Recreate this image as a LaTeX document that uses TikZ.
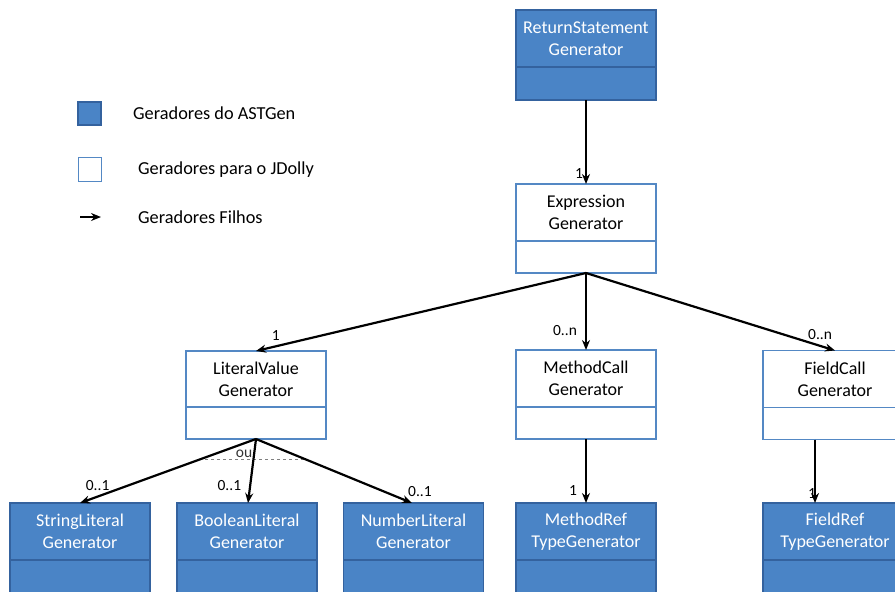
\documentclass[tikz,border=0pt]{standalone}
\usepackage{fontspec}
\setmainfont{Carlito}
\usetikzlibrary{positioning}
\usetikzlibrary{arrows.meta}
\definecolor{astblue}{RGB}{74,132,198}
\definecolor{astedge}{RGB}{52,98,158}
\definecolor{jdedge}{RGB}{84,136,196}
\tikzset{
gen/.style={minimum width=140pt, minimum height=57pt, inner sep=0pt, outer sep=0pt, align=center, line width=1.5pt, font=\fontsize{18}{22}\selectfont},
astgen/.style={gen, draw=astedge, fill=astblue, text=white},
jdgen/.style={gen, draw=jdedge, fill=white, text=black},
astslot/.style={astgen, minimum height=33pt},
jdslot/.style={jdgen, minimum height=32pt},
spawn/.style={-{Stealth[length=10pt,width=8pt]}, line width=2.2pt},
mult/.style={font=\fontsize{15.5}{15.5}\selectfont, inner sep=2pt},
legend/.style={font=\fontsize{18.3}{22}\selectfont, anchor=west, inner sep=0pt}
}

\begin{document}
\begin{tikzpicture}[x=1pt, y=-1pt]

\fill [white] (0,0) rectangle (895,592);
\useasboundingbox (0,0) rectangle (895,592);

% legend
\node [astgen, minimum width=23pt, minimum height=23pt] (keyast) at (89.5,113.5) {};
\node [legend] (keyasttext) at (133,113) {Geradores do ASTGen};
\node [jdgen, minimum width=23pt, minimum height=24pt] (keyjd) at (90,169.5) {};
\node [legend] (keyjdtext) at (138,170) {Geradores para o JDolly};
\coordinate (keyfrom) at (80,217);
\coordinate (keyto) at (101,217);
\node [legend] (keysubtext) at (138,217) {Geradores Filhos};
\draw [spawn, line width=1.8pt] (keyfrom) -- (keyto);

% generators
\node [astgen] (ret) at (586,38.5) {ReturnStatement\\Generator};
\node [astslot, below=0pt of ret] (retb) {};

\node [jdgen] (expr) at (586,212.5) {Expression\\Generator};
\node [jdslot, below=0pt of expr] (exprb) {};

\node [jdgen, minimum height=56pt] (lit) at (256,379) {LiteralValue\\Generator};
\node [jdslot, below=0pt of lit] (litb) {};
\node [jdgen, minimum height=57pt] (mcall) at (586,378.5) {MethodCall\\Generator};
\node [jdslot, below=0pt of mcall] (mcallb) {};
\node [jdgen, minimum width=144pt] (fcall) at (835,379) {FieldCall\\Generator};
\node [jdslot, minimum width=144pt, below=0pt of fcall] (fcallb) {};

\foreach \name/\x/\txt in {str/80/StringLiteral, bool/247/BooleanLiteral, num/413.5/NumberLiteral} {
  \node [astgen] (\name) at (\x,531.5) {\txt\\Generator};
  \node [astslot, minimum height=40pt, below=0pt of \name] (\name b) {};
}
\node [astgen] (mref) at (586,531.5) {MethodRef\\TypeGenerator};
\node [astslot, minimum height=40pt, below=0pt of mref] (mrefb) {};
\node [astgen, minimum width=144pt] (fref) at (835,531.5) {FieldRef\\TypeGenerator};
\node [astslot, minimum width=144pt, minimum height=40pt, below=0pt of fref] (frefb) {};

% choice between the literal generators
\draw [gray, dashed, line width=1pt] ([xshift=-51pt, yshift=-20pt]litb.south) -- ([xshift=51pt, yshift=-20pt]litb.south);
\node [mult, anchor=base, text=black!80] (ou) at ([xshift=-12pt, yshift=-18pt]litb.south) {ou};

% child generators
\draw [spawn] (retb.south) -- node [mult, pos=0.88, left] {1} (expr.north);
\draw [spawn] (exprb.south) -- node [mult, pos=0.94, above=3pt] {1} (lit.north);
\draw [spawn] (exprb.south) -- node [mult, pos=0.75, left=6pt] {0..n} (mcall.north);
\draw [spawn] (exprb.south) -- node [mult, pos=0.94, above=3pt] {0..n} (fcall.north);
\draw [spawn] (litb.south) -- node [mult, pos=0.9, above=3pt] {0..1} (str.north);
\draw [spawn] (litb.south) -- node [mult, pos=0.72, left=6pt] {0..1} ([xshift=1pt]bool.north);
\draw [spawn] (litb.south) -- node [mult, at end, above=3pt, xshift=8pt] {0..1} ([xshift=-1.5pt]num.north);
\draw [spawn] (mcallb.south) -- node [mult, pos=0.8, left=6pt] {1} (mref.north);
\draw [spawn] ([xshift=-20pt]fcallb.south) -- node [mult, pos=0.85, left=-4pt] {1} ([xshift=-20pt]fref.north);

\end{tikzpicture}
\end{document}
